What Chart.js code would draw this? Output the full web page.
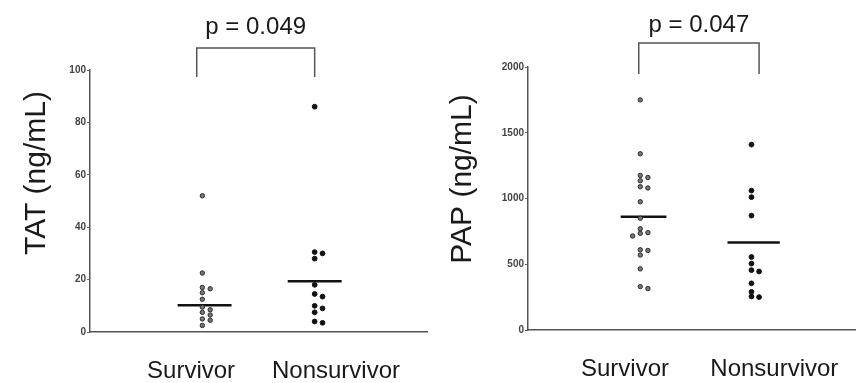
<!DOCTYPE html>
<html><head><meta charset="utf-8">
<script src="https://cdn.jsdelivr.net/npm/chart.js@4.4.0/dist/chart.umd.min.js"></script>
<style>
html,body{margin:0;padding:0;background:#fff;overflow:hidden;}
#wrap{position:relative;width:856px;height:383px;background:#fff;overflow:hidden;}
.box{position:absolute;top:0;width:432px;height:383px;}
</style></head><body>
<div id="wrap">
<div class="box" style="left:0"><canvas id="c1"></canvas></div>
<div class="box" style="left:428px"><canvas id="c2"></canvas></div>
</div>
<script>
const categories = ['Survivor', 'Nonsurvivor'];
const tatSurvivor = [52, 22.5, 17, 16.5, 15, 12.5, 9.5, 8.5, 7.5, 6.5, 5, 4.5, 2.5];
const tatNonsurvivor = [86, 30.5, 30, 28, 18, 14.5, 13.5, 10, 9, 7.5, 4, 3.5];
const tatMeans = [10.2, 19.4];
const papSurvivor = [1750, 1340, 1175, 1160, 1135, 1090, 1080, 975, 850, 770, 740, 735, 715, 610, 605, 570, 465, 330, 315];
const papNonsurvivor = [1410, 1060, 1010, 870, 555, 505, 455, 445, 355, 290, 255, 250];
const papMeans = [861, 666];
const tatTicks = [0, 20, 40, 60, 80, 100];
const papTicks = [0, 500, 1000, 1500, 2000];
const pValues = ['p = 0.049', 'p = 0.047'];
const yTitles = ['TAT (ng/mL)', 'PAP (ng/mL)'];

const FONT = "'Liberation Sans', Arial, Helvetica, sans-serif";

// deterministic side-by-side placement of points with near-equal values
function swarm(values, center, thr, step) {
  const placed = [];
  const offs = [0, 1, -1, 2, -2, 3, -3];
  values.forEach(v => {
    let x = center;
    for (const o of offs) {
      x = center + o * step;
      if (!placed.some(p => Math.abs(p.y - v) < thr && Math.abs(p.x - x) < step * 0.9)) break;
    }
    placed.push({ x, y: v });
  });
  return placed;
}

function makeChart(id, o) {
  const decor = {
    id: 'decor',
    afterDraw(chart) {
      const ctx = chart.ctx;
      const xs = chart.scales.x;
      ctx.save();
      ctx.fillStyle = '#1a1a1a';
      ctx.font = '30px ' + FONT;
      ctx.textAlign = 'center';
      ctx.textBaseline = 'middle';
      ctx.translate(o.titleX, o.titleY);
      ctx.rotate(-Math.PI / 2);
      ctx.fillText(o.yTitle, 0, 0);
      ctx.restore();
      ctx.save();
      const bx1 = xs.getPixelForValue(o.bracket[0]);
      const bx2 = xs.getPixelForValue(o.bracket[1]);
      ctx.strokeStyle = '#555';
      ctx.lineWidth = 1.5;
      ctx.beginPath();
      ctx.moveTo(bx1, o.bracketBottom);
      ctx.lineTo(bx1, o.bracketTop);
      ctx.lineTo(bx2, o.bracketTop);
      ctx.lineTo(bx2, o.bracketBottom);
      ctx.stroke();
      ctx.fillStyle = '#1a1a1a';
      ctx.font = '24px ' + FONT;
      ctx.textAlign = 'center';
      ctx.textBaseline = 'middle';
      ctx.fillText(o.pValue, (bx1 + bx2) / 2, o.pY);
      ctx.restore();
    }
  };
  const datasets = [
    {
      type: 'scatter',
      data: swarm(o.survivor, o.columns[0], o.thr, 0.07),
      pointRadius: 2.2, pointBackgroundColor: '#777', pointBorderColor: '#2a2a2a', pointBorderWidth: 1
    },
    {
      type: 'scatter',
      data: swarm(o.nonsurvivor, o.columns[1], o.thr, 0.07),
      pointRadius: 2.4, pointBackgroundColor: '#111', pointBorderColor: '#111', pointBorderWidth: 1
    }
  ];
  o.means.forEach((m, i) => {
    datasets.push({
      type: 'line',
      data: [{ x: o.meanCenters[i] - o.meanHalf[i], y: m }, { x: o.meanCenters[i] + o.meanHalf[i], y: m }],
      borderColor: '#111', borderWidth: 2.5, pointRadius: 0, fill: false
    });
  });
  return new Chart(document.getElementById(id), {
    type: 'scatter',
    data: { datasets },
    options: {
      responsive: true, maintainAspectRatio: false, animation: false,
      layout: { padding: { top: o.top, left: 0, right: 0, bottom: 0 } },
      plugins: { legend: { display: false }, tooltip: { enabled: false } },
      scales: {
        x: {
          type: 'linear', min: 0, max: 3,
          afterBuildTicks: s => { s.ticks = o.labelPos.map(v => ({ value: v })); },
          afterFit: s => { s.height = o.xAxisH; s.paddingLeft = 0; s.paddingRight = 0; },
          ticks: {
            callback: (v, i) => categories[i],
            font: { family: FONT, size: 24 }, color: '#1a1a1a', padding: 17, maxRotation: 0, autoSkip: false
          },
          grid: { display: false },
          border: { display: true, color: '#555', width: 1.5 }
        },
        y: {
          min: 0, max: o.max,
          afterBuildTicks: s => { s.ticks = o.ticks.map(v => ({ value: v })); },
          afterFit: s => { s.width = o.yAxisW; },
          ticks: {
            callback: v => String(v),
            font: { family: FONT, size: 10, weight: 'bold' }, color: '#444', padding: 1
          },
          grid: { display: true, drawOnChartArea: false, drawTicks: true, tickLength: 3, color: '#666' },
          border: { display: true, color: '#555', width: 1.5 }
        }
      }
    },
    plugins: [decor]
  });
}

makeChart('c1', {
  survivor: tatSurvivor, nonsurvivor: tatNonsurvivor, means: tatMeans,
  ticks: tatTicks, max: 100, thr: 1.6,
  columns: [1.0, 2.0], meanCenters: [1.02, 2.0], meanHalf: [0.24, 0.24],
  labelPos: [0.9, 2.19],
  top: 70, yAxisW: 90, xAxisH: 51,
  yTitle: yTitles[0], titleX: 37, titleY: 173,
  bracket: [0.95, 2.0], bracketTop: 48, bracketBottom: 77, pValue: pValues[0], pY: 27
});
makeChart('c2', {
  survivor: papSurvivor, nonsurvivor: papNonsurvivor, means: papMeans,
  ticks: papTicks, max: 2000, thr: 32,
  columns: [1.03, 2.05], meanCenters: [1.06, 2.07], meanHalf: [0.21, 0.24],
  labelPos: [0.89, 2.26],
  top: 67, yAxisW: 100, xAxisH: 53,
  yTitle: yTitles[1], titleX: 35, titleY: 179,
  bracket: [1.016, 2.12], bracketTop: 43, bracketBottom: 74, pValue: pValues[1], pY: 25
});
</script>
</body></html>
